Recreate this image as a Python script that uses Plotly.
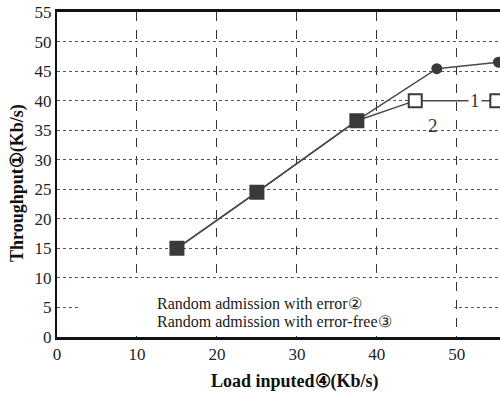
import plotly.graph_objects as go

# Data
x_error = [15, 25, 37.5, 47.5, 55.2]
y_error = [15, 24.5, 36.6, 45.4, 46.5]

x_errfree = [15, 25, 37.5, 44.8, 55]
y_errfree = [15, 24.5, 36.6, 40, 40]

x_ticks = [0, 10, 20, 30, 40, 50]
y_ticks = [0, 5, 10, 15, 20, 25, 30, 35, 40, 45, 50, 55]

legend_labels = ["Random admission with error②", "Random admission with error-free③"]
curve_labels = ["1", "2"]
x_title = "<b>Load inputed④(Kb/s)</b>"
y_title = "<b>Throughput①(Kb/s)</b>"

FONT = "Liberation Serif"
LINE = "#4a4a4a"
MARK = "#3a3a3a"

fig = go.Figure()

fig.add_trace(go.Scatter(
    x=x_error, y=y_error, mode="lines+markers",
    line=dict(color=LINE, width=1.5),
    marker=dict(symbol="circle", size=11, color=MARK),
    showlegend=False, cliponaxis=False))

fill = [MARK, MARK, MARK, "white", "white"]
fig.add_trace(go.Scatter(
    x=x_errfree, y=y_errfree, mode="lines+markers",
    line=dict(color=LINE, width=1.5),
    marker=dict(symbol="square", size=13, color=fill,
                line=dict(color=MARK, width=2)),
    showlegend=False, cliponaxis=False))

# legend box (white) covering grid
fig.add_shape(type="rect", xref="x", yref="y", x0=3, x1=49.7, y0=0.4, y1=9.6,
              fillcolor="white", line=dict(width=0), layer="between")

fig.add_annotation(x=12.2, y=5.6, xref="x", yref="y", text=legend_labels[0],
                   showarrow=False, xanchor="left", yanchor="middle",
                   font=dict(family=FONT, size=16, color="#1a1a1a"))
fig.add_annotation(x=12.2, y=2.7, xref="x", yref="y", text=legend_labels[1],
                   showarrow=False, xanchor="left", yanchor="middle",
                   font=dict(family=FONT, size=16, color="#1a1a1a"))

fig.add_annotation(x=52.3, y=40, xref="x", yref="y", text=curve_labels[0],
                   showarrow=False, bgcolor="white",
                   font=dict(family=FONT, size=19, color="#333"))
fig.add_annotation(x=47, y=35.8, xref="x", yref="y", text=curve_labels[1],
                   showarrow=False,
                   font=dict(family=FONT, size=19, color="#333"))

# axis titles
fig.add_annotation(x=0.537, y=-0.138, xref="paper", yref="paper", text=x_title,
                   showarrow=False, xanchor="center", yanchor="middle",
                   font=dict(family=FONT, size=18, color="#111"))
fig.add_annotation(x=-0.088, y=0.474, xref="paper", yref="paper", text=y_title,
                   showarrow=False, xanchor="center", yanchor="middle", textangle=-90,
                   font=dict(family=FONT, size=18, color="#111"))

fig.update_layout(
    width=500, height=396,
    margin=dict(l=57, r=0, t=12, b=59),
    plot_bgcolor="white", paper_bgcolor="white",
    font=dict(family=FONT, size=16, color="#222"),
    xaxis=dict(range=[0, 55.4], tickvals=x_ticks, showgrid=True,
               gridcolor="#333", griddash="dash", gridwidth=1,
               showline=True, linecolor="#111", linewidth=3, mirror=True,
               ticks="", zeroline=False, automargin=False,
               tickfont=dict(family=FONT, size=17, color="#222")),
    yaxis=dict(range=[0, 55], tickvals=y_ticks, showgrid=True,
               gridcolor="#555", griddash="dot", gridwidth=1,
               showline=True, linecolor="#111", linewidth=2,
               ticks="", zeroline=False, automargin=False,
               tickfont=dict(family=FONT, size=17, color="#222")),
)

fig.write_html("out.html", config={"displayModeBar": False},
               post_script="document.body.style.margin='0';document.body.style.overflow='hidden';")
